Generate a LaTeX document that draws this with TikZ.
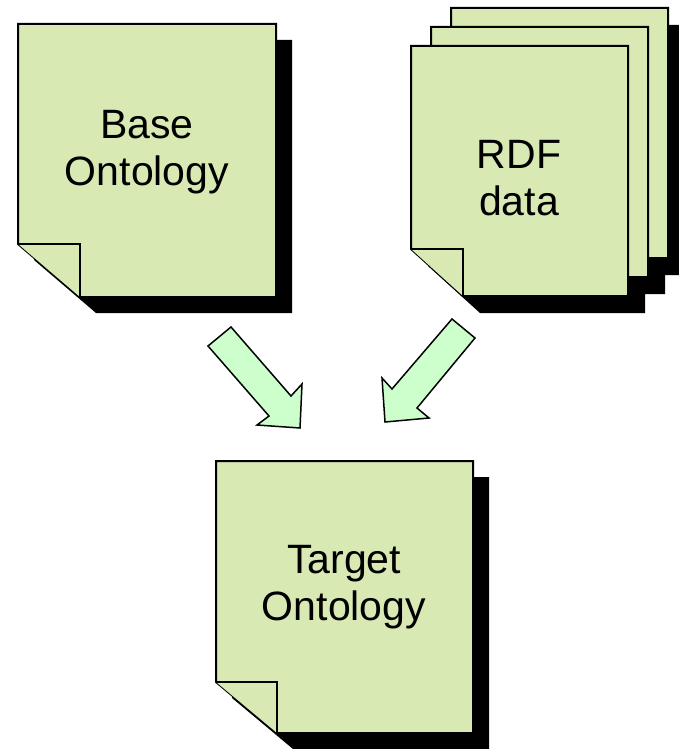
\documentclass[tikz,border=0pt]{standalone}
\usepackage{fontspec}
\setmainfont{Liberation Sans}

\definecolor{pagegreen}{RGB}{216,233,180}
\definecolor{arrowgreen}{RGB}{204,255,204}

\tikzset{
  page/.style={fill=pagegreen, draw=black, line width=1pt},
  fatarrow/.style={fill=arrowgreen, draw=black, line width=0.75pt, line join=miter},
  doctext/.style={align=center, inner sep=0pt, anchor=north,
    font=\fontsize{20.5}{23.5}\selectfont}
}

% sheet with folded corner: left, top, right, bottom, fold x, fold y
\newcommand{\sheet}[6]{%
  \filldraw[page] (#1,#2) -- (#3,#2) -- (#3,#4) -- ({#1+#5},#4) -- (#1,{#4-#6}) -- cycle;
  \draw[page] (#1,{#4-#6}) -- ({#1+#5},{#4-#6}) -- ({#1+#5},#4);}
% its drop shadow, shifted by #7
\newcommand{\sheetshadow}[7]{%
  \fill[black, shift={(#7,#7)}] (#1,#2) -- (#3,#2) -- (#3,#4) -- ({#1+#5},#4) -- (#1,{#4-#6}) -- cycle;}

\begin{document}
\begin{tikzpicture}[x=0.5pt, y=-0.5pt]
\useasboundingbox (0,0) rectangle (679,749);

% shadows first
\sheetshadow{18}{24}{276}{297}{62}{53}{16}
\foreach \k in {2,1,0} {
  \sheetshadow{411+20*\k}{46-19*\k}{628+20*\k}{296-19*\k}{52}{47}{17}
}
\sheetshadow{216}{461}{473}{733}{61}{51}{16}

% sheets
\sheet{18}{24}{276}{297}{62}{53}
\foreach \k in {2,1,0} {
  \sheet{411+20*\k}{46-19*\k}{628+20*\k}{296-19*\k}{52}{47}
}
\sheet{216}{461}{473}{733}{61}{51}

\node[doctext] (base) at (147,110) {Base\\Ontology};
\node[doctext] (rdf) at (519,140) {RDF\\data};
\node[doctext] (target) at (344,545) {Target\\Ontology};

% block arrows
\draw[fatarrow] (208,346) -- (231,327) -- (291,396) -- (302,384) -- (300,428) -- (257,425) -- (269,416) -- cycle;
\draw[fatarrow] (475,338) -- (452,319) -- (392,389) -- (382,378) -- (385,422) -- (429,418) -- (417,408) -- cycle;
\end{tikzpicture}
\end{document}
